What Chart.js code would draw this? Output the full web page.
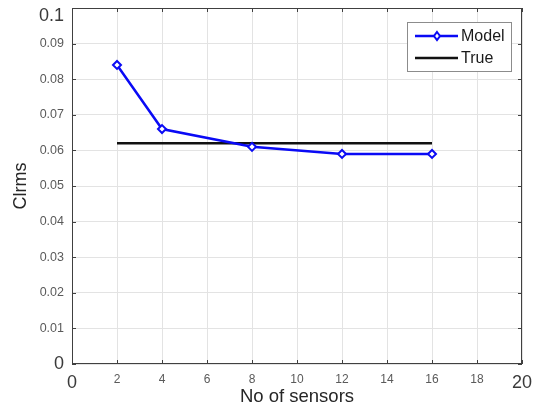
<!DOCTYPE html>
<html>
<head>
<meta charset="utf-8">
<script src="https://cdn.jsdelivr.net/npm/chart.js@4"></script>
<style>
  html, body { margin: 0; padding: 0; background: #fff; }
  #wrap { width: 534px; height: 411px; position: relative; }
</style>
</head>
<body>
<div id="wrap"><canvas id="c" width="534" height="411"></canvas></div>
<script>
// Number of sensors vs. Clrms
const sensors = [2, 4, 8, 12, 16];
const modelClrms = [0.084, 0.066, 0.061, 0.059, 0.059];
const trueSensors = [2, 16];
const trueClrms = [0.062, 0.062];
const xTicks = [0, 2, 4, 6, 8, 10, 12, 14, 16, 18, 20];
const yTicks = [0, 0.01, 0.02, 0.03, 0.04, 0.05, 0.06, 0.07, 0.08, 0.09, 0.1];

const FONT = "'Liberation Sans', Arial, sans-serif";
const Y_MAX = 0.1;

// Box outline, inward tick marks, top y label and an inset legend
const boxPlugin = {
  id: 'boxPlugin',
  afterDraw(chart) {
    const { ctx, chartArea: a, scales } = chart;
    ctx.save();
    ctx.strokeStyle = '#404040';
    ctx.lineWidth = 1;
    ctx.strokeRect(a.left + 0.5, a.top + 0.5, a.right - a.left - 1, a.bottom - a.top - 1);
    const tl = 4;
    ctx.beginPath();
    xTicks.forEach(v => {
      const px = Math.round(scales.x.getPixelForValue(v)) + 0.5;
      ctx.moveTo(px, a.bottom); ctx.lineTo(px, a.bottom - tl);
      ctx.moveTo(px, a.top); ctx.lineTo(px, a.top + tl);
    });
    yTicks.forEach(v => {
      const py = Math.round(scales.y.getPixelForValue(v)) + 0.5;
      ctx.moveTo(a.left, py); ctx.lineTo(a.left + tl, py);
      ctx.moveTo(a.right, py); ctx.lineTo(a.right - tl, py);
    });
    ctx.stroke();

    // top y-axis label, set a little below the top edge
    ctx.fillStyle = '#3a3a3a';
    ctx.font = '18px ' + FONT;
    ctx.textAlign = 'right';
    ctx.textBaseline = 'middle';
    ctx.fillText(String(Y_MAX), a.left - 8, scales.y.getPixelForValue(Y_MAX) + 8);

    // legend
    const lx = 407, ly = 22, lw = 104, lh = 49;
    ctx.fillStyle = '#ffffff';
    ctx.fillRect(lx, ly, lw, lh);
    ctx.strokeStyle = '#8c8c8c';
    ctx.lineWidth = 1;
    ctx.strokeRect(lx + 0.5, ly + 0.5, lw, lh);
    const items = chart.data.datasets;
    const rows = [ly + 14, ly + 36];
    items.forEach((ds, i) => {
      const y = rows[i];
      ctx.strokeStyle = ds.borderColor;
      ctx.lineWidth = ds.borderWidth;
      ctx.beginPath();
      ctx.moveTo(lx + 8, y); ctx.lineTo(lx + 51, y);
      ctx.stroke();
      if (ds.pointRadius > 0) {
        ctx.fillStyle = '#ffffff';
        ctx.lineWidth = 2;
        ctx.beginPath();
        const cx = lx + 30, r = 4;
        ctx.moveTo(cx, y - r); ctx.lineTo(cx + r * 0.75, y); ctx.lineTo(cx, y + r); ctx.lineTo(cx - r * 0.75, y);
        ctx.closePath();
        ctx.fill(); ctx.stroke();
      }
      ctx.fillStyle = '#1a1a1a';
      ctx.font = '16px ' + FONT;
      ctx.textBaseline = 'middle';
      ctx.textAlign = 'left';
      ctx.fillText(ds.label, lx + 54, y + 1);
    });
    ctx.restore();
  }
};

const isEndX = (c) => c.tick && (c.tick.value === 0 || c.tick.value === 20);
const isEndY = (c) => c.tick && (c.tick.value === 0 || c.tick.value === Y_MAX);

new Chart(document.getElementById('c'), {
  type: 'line',
  data: {
    datasets: [
      {
        label: 'Model',
        data: sensors.map((s, i) => ({ x: s, y: modelClrms[i] })),
        borderColor: '#0a0af5',
        backgroundColor: '#ffffff',
        borderWidth: 2.5,
        pointStyle: 'rectRot',
        pointRadius: 4,
        pointBorderWidth: 2,
        pointBackgroundColor: '#ffffff',
        pointBorderColor: '#0a0af5',
        tension: 0
      },
      {
        label: 'True',
        data: trueSensors.map((s, i) => ({ x: s, y: trueClrms[i] })),
        borderColor: '#111111',
        borderWidth: 2.5,
        pointRadius: 0,
        tension: 0
      }
    ]
  },
  options: {
    responsive: false,
    animation: false,
    devicePixelRatio: 1,
    layout: { padding: { left: 0, top: 8, right: 12, bottom: 0 } },
    plugins: { legend: { display: false }, tooltip: { enabled: false } },
    scales: {
      x: {
        type: 'linear',
        min: 0, max: 20,
        afterFit(s) { s.height = 47; s.paddingLeft = 0; s.paddingRight = 0; },
        afterBuildTicks(s) { s.ticks = xTicks.map(v => ({ value: v })); },
        grid: { color: '#e3e3e3', drawTicks: false },
        border: { display: false },
        ticks: {
          padding: 8,
          maxRotation: 0,
          autoSkip: false,
          color: (c) => isEndX(c) ? '#3a3a3a' : '#5a5a5a',
          font: (c) => ({ family: FONT, size: isEndX(c) ? 18 : 12 }),
          callback: (v) => String(v)
        },
        title: {
          display: true,
          text: 'No of sensors',
          color: '#262626',
          font: { family: FONT, size: 18.5 },
          padding: { top: 0, bottom: 3 }
        }
      },
      y: {
        type: 'linear',
        min: 0, max: Y_MAX,
        afterFit(s) { s.width = 72; s.paddingTop = 0; s.paddingBottom = 0; },
        afterBuildTicks(s) { s.ticks = yTicks.map(v => ({ value: v })); },
        grid: { color: '#e3e3e3', drawTicks: false },
        border: { display: false },
        ticks: {
          padding: 8,
          autoSkip: false,
          color: (c) => isEndY(c) ? '#3a3a3a' : '#5a5a5a',
          font: (c) => ({ family: FONT, size: isEndY(c) ? 18 : 12.5 }),
          callback: (v) => (v === 0 ? '0' : (v === Y_MAX ? '' : v.toFixed(2)))
        },
        title: {
          display: true,
          text: 'Clrms',
          color: '#262626',
          font: { family: FONT, size: 18 },
          padding: { top: 10, bottom: 0 }
        }
      }
    }
  },
  plugins: [boxPlugin]
});
</script>
</body>
</html>
